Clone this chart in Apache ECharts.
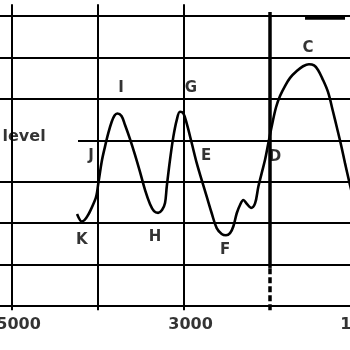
<!DOCTYPE html>
<html><head><meta charset="utf-8">
<script src="https://cdn.jsdelivr.net/npm/echarts/dist/echarts.min.js"></script>
<style>html,body{margin:0;padding:0;background:#fff}#c{width:350px;height:350px}</style>
</head><body><div id="c"></div>
<script>
// curve: wavenumber (x) and level (y)
const curveX = [4244,4190,4035,3997,3957,3919,3880,3841,3808,3776,3727,3686,3628,3570,3512,3453,3395,3349,3302,3256,3221,3201,3163,3124,3085,3047,3008,2969,2910,2852,2794,2736,2678,2620,2562,2512,2465,2427,2387,2349,2310,2267,2221,2174,2136,2097,2058,2020,1977,1930,1884,1826,1767,1686,1616,1547,1488,1442,1395,1326,1267,1221,1174,1128,1081,1035];
const curveY = [2.22,2.04,2.56,2.96,3.49,3.85,4.18,4.45,4.60,4.65,4.59,4.37,4.03,3.65,3.24,2.80,2.46,2.29,2.25,2.32,2.49,2.88,3.53,4.09,4.49,4.69,4.65,4.41,3.93,3.45,3.04,2.64,2.24,1.88,1.74,1.71,1.76,1.92,2.24,2.44,2.56,2.46,2.37,2.48,2.88,3.21,3.53,3.93,4.37,4.80,5.07,5.31,5.51,5.68,5.79,5.84,5.81,5.70,5.51,5.17,4.69,4.30,3.89,3.45,3.02,2.63];
const pointNames = ['K','J','I','H','G','E','F','D','C'];
const pointX = [4190,4081,3733,3337,2919,2744,2523,1942,1558];
const pointY = [1.59,3.62,5.27,1.67,5.27,3.62,1.35,3.60,6.23];
const xGridLines = [5000,4000,3000];
const xMarkedLine = 2000;
const xTickValues = [5000,3000,1000];
const xTickLabels = ['5000','3000','1000'];
const levelLines = [0,1,2,3,5,6,7];
const referenceLevel = 4;
const referenceStart = 4233;
const levelText = 'level';
const levelTextPos = [4860, 4.08];

const X_MIN = 1070, X_MAX = 5140, Y_MIN = -0.2, Y_MAX = 7.39;
const FONT = 'DejaVu Sans';
const chart = echarts.init(document.getElementById('c'), null, {renderer: 'canvas'});

const solid = w => ({width: w, color: '#000', type: 'solid', opacity: 1});
const lines = [];
levelLines.forEach(v => lines.push({yAxis: v, lineStyle: solid(1.8)}));
lines.push([{coord: [referenceStart, referenceLevel], lineStyle: solid(1.8)}, {coord: [X_MIN, referenceLevel]}]);
xGridLines.forEach(v => lines.push([{coord: [v, -0.1], lineStyle: solid(2)}, {coord: [v, 7.29]}]));
lines.push([{coord: [xMarkedLine, 0.92], lineStyle: solid(3.5)}, {coord: [xMarkedLine, 7.1]}]);
lines.push([{coord: [xMarkedLine, -0.1], lineStyle: {width: 3.5, color: '#000', type: [6, 3]}}, {coord: [xMarkedLine, 0.92]}]);
// thick scan mark on the top line
lines.push([{coord: [1593, 6.96], lineStyle: solid(3.5)}, {coord: [1128, 6.96]}]);

const txt = (size) => ({show: true, position: 'inside', formatter: p => p.name, color: '#000', fontSize: size, fontWeight: 'bold', fontFamily: FONT, textBorderWidth: 0, textShadowBlur: 0});

chart.setOption({
  animation: false,
  backgroundColor: '#fff',
  grid: {left: 0, right: 0, top: 0, bottom: 35.7, containLabel: false},
  xAxis: {
    type: 'value', inverse: true, min: X_MIN, max: X_MAX,
    axisLine: {show: false}, axisTick: {show: false}, splitLine: {show: false}, axisLabel: {show: false}
  },
  yAxis: {type: 'value', min: Y_MIN, max: Y_MAX, show: false, splitLine: {show: false}},
  series: [
    {
      type: 'line', data: curveX.map((x, i) => [x, curveY[i]]),
      showSymbol: false, smooth: 0.35, clip: false,
      lineStyle: {color: '#000', width: 2.6},
      markLine: {silent: true, symbol: 'none', label: {show: false}, animation: false, data: lines}
    },
    {
      type: 'scatter', symbolSize: 0, clip: false,
      data: pointNames.map((n, i) => ({name: n, value: [pointX[i], pointY[i]]})),
      label: txt(15)
    },
    {
      type: 'scatter', symbolSize: 0, clip: false,
      data: [{name: levelText, value: levelTextPos}],
      label: txt(16)
    },
    {
      type: 'scatter', symbolSize: 0, clip: false,
      data: xTickValues.map((v, i) => ({name: xTickLabels[i], value: [v, -0.46]})),
      label: Object.assign(txt(16), {offset: [6.5, 0]})
    }
  ]
});
</script></body></html>
